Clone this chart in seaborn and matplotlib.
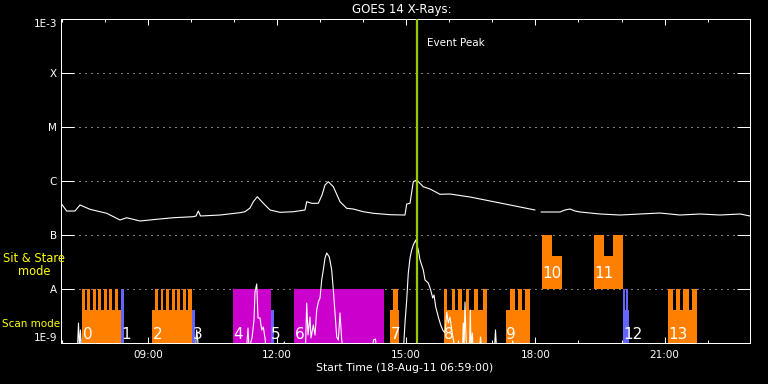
import matplotlib
matplotlib.use("Agg")
import numpy as np
import pandas as pd
import matplotlib.pyplot as plt
import seaborn as sns
from matplotlib.ticker import FixedLocator, NullLocator

# GOES 14 long channel (1-8 A), hours UT on 18-Aug-11, log10 flux
long_hour = [6.983, 7.115, 7.308, 7.424, 7.656, 8.044, 8.353, 8.509, 8.818, 9.205,
             9.591, 10.055, 10.118, 10.172, 10.223, 10.675, 11.140, 11.256, 11.372, 11.449,
             11.542, 11.681, 11.837, 12.069, 12.378, 12.649, 12.689, 12.805, 12.958, 13.044,
             13.114, 13.190, 13.307, 13.462, 13.618, 13.771, 14.003, 14.236, 14.623, 14.971,
             15.011, 15.088, 15.164, 15.243, 15.396, 15.552, 15.784, 16.016, 16.249, 16.481,
             16.713, 16.945, 17.178, 17.410, 17.642, 17.875, 17.991,
             18.130, 18.339, 18.571, 18.687, 18.804, 18.920, 19.036, 19.500, 19.965, 20.429,
             20.894, 21.358, 21.823, 22.287, 22.752, 22.983]
long_log = [-6.413, -6.556, -6.556, -6.444, -6.524, -6.598, -6.722, -6.680, -6.741, -6.709,
            -6.680, -6.661, -6.648, -6.556, -6.648, -6.630, -6.587, -6.569, -6.500, -6.383,
            -6.291, -6.413, -6.537, -6.580, -6.569, -6.537, -6.383, -6.413, -6.413, -6.259,
            -6.074, -6.013, -6.106, -6.383, -6.506, -6.519, -6.569, -6.598, -6.624, -6.630,
            -6.426, -6.413, -6.013, -5.981, -6.106, -6.148, -6.246, -6.241, -6.269, -6.296,
            -6.333, -6.370, -6.407, -6.444, -6.481, -6.519, -6.537,
            -6.574, -6.574, -6.574, -6.537, -6.519, -6.556, -6.574, -6.611, -6.630, -6.611,
            -6.593, -6.630, -6.611, -6.630, -6.611, -6.648]
long_seg = [0] * 57 + [1] * 16

# GOES 14 short channel (0.5-4 A); -9.1 is below the plot floor
short_hour = [6.983, 7.366, 7.389, 7.413, 7.436, 7.459, 10.106, 10.134, 10.153, 10.176,
              11.291, 11.326, 11.349, 11.419, 11.465, 11.488, 11.528, 11.558, 11.604, 11.644,
              11.681, 11.720, 11.744, 12.150, 12.169, 12.185,
              12.661, 12.689, 12.719, 12.765, 12.789, 12.842, 12.882, 12.921, 12.958, 12.998,
              13.037, 13.074, 13.114, 13.153, 13.214, 13.269, 13.307, 13.346, 13.386, 13.423,
              13.462, 13.502, 13.532, 14.217, 14.240, 14.286, 14.310,
              14.937, 14.971, 15.011, 15.048, 15.088, 15.127, 15.164, 15.220, 15.281, 15.320,
              15.396, 15.436, 15.513, 15.568, 15.615, 15.645, 15.685, 15.745, 15.801, 15.847,
              15.901, 15.940, 15.977, 16.016, 16.056, 16.086, 16.133,
              16.191, 16.214, 16.237, 16.307, 16.325, 16.342, 16.365, 16.388, 16.411, 16.469,
              16.488, 16.504, 16.534, 16.551, 16.702, 16.725, 16.748, 17.050, 17.073, 17.096,
              17.456, 17.472, 17.491, 22.983]
short_log = [-9.1, -9.1, -8.630, -9.1, -8.759, -9.1, -9.1, -8.759, -8.907, -9.1,
             -9.1, -8.722, -9.1, -8.907, -8.574, -8.056, -7.907, -8.537, -8.537, -8.759,
             -8.704, -8.907, -9.1, -9.1, -8.981, -9.1,
             -9.1, -8.259, -8.852, -8.519, -8.907, -8.667, -8.852, -8.389, -8.241, -8.167,
             -7.833, -7.648, -7.426, -7.333, -7.407, -7.648, -8.019, -8.444, -8.889, -8.944,
             -8.444, -8.944, -9.1, -9.1, -8.944, -8.926, -9.1,
             -9.1, -8.630, -8.204, -7.704, -7.426, -7.278, -7.185, -7.093, -7.278, -7.462,
             -7.648, -7.833, -7.889, -8.019, -8.167, -8.111, -8.333, -8.519, -8.667, -8.759,
             -8.815, -8.426, -8.630, -8.519, -8.759, -8.907, -9.1,
             -9.1, -8.963, -9.1, -9.1, -8.630, -9.1, -8.241, -8.907, -9.1, -9.1,
             -8.389, -9.1, -8.815, -9.1, -9.1, -8.889, -9.1, -9.1, -8.759, -9.1,
             -9.1, -8.963, -9.1, -9.1]

# observing sequences
seq_label = ["0", "1", "2", "3", "4", "5", "6", "7", "8", "9", "10", "11", "12", "13"]
seq_kind = ["raster", "fixed", "raster", "fixed", "context", "fixed", "context",
            "raster", "raster", "raster", "raster", "raster", "fixed", "raster"]
seq_band = ["scan"] * 10 + ["stare", "stare", "scan", "scan"]
seq_start = [7.478, 8.376, 9.096, 10.032, 10.977, 11.853, 12.394, 14.623, 15.877, 17.317,
             18.153, 19.361, 20.030, 21.079]
seq_end = [8.376, 8.446, 10.032, 10.095, 11.853, 11.930, 14.484, 14.832, 16.869, 17.875,
           18.618, 20.027, 20.174, 21.753]
seq_level = [4e-9, 1e-8, 4e-9, 4e-9, 1e-8, 4e-9, 1e-8, 4e-9, 4e-9, 4e-9,
             4e-8, 4e-8, 4e-9, 4e-9]

# individual exposures reaching the top of the band
spike_seq = [0] * 7 + [2] * 7 + [7] + [8] * 6 + [9] * 3 + [10] + [11] * 2 + [12] * 2 + [13] * 4
spike_start = [7.478, 7.594, 7.719, 7.849, 7.975, 8.105, 8.237,
               9.166, 9.298, 9.421, 9.554, 9.684, 9.809, 9.939,
               14.693,
               15.877, 16.056, 16.209, 16.388, 16.574, 16.776,
               17.410, 17.589, 17.758,
               18.153,
               19.361, 19.802,
               20.040, 20.110,
               21.079, 21.258, 21.435, 21.630]
spike_end = [7.540, 7.663, 7.789, 7.912, 8.044, 8.174, 8.314,
             9.243, 9.359, 9.491, 9.630, 9.753, 9.886, 10.032,
             14.809,
             15.954, 16.133, 16.288, 16.465, 16.674, 16.869,
             17.526, 17.689, 17.875,
             18.386,
             19.593, 20.027,
             20.090, 20.160,
             21.195, 21.365, 21.560, 21.753]

event_peak = 15.24
class_ticks = [1e-9, 1e-8, 1e-7, 1e-6, 1e-5, 1e-4, 1e-3]
class_labels = ["1E-9", "A", "B", "C", "M", "X", "1E-3"]
hour_ticks = [9, 12, 15, 18, 21]
hour_labels = ["09:00", "12:00", "15:00", "18:00", "21:00"]
hour_minor = [7, 8, 10, 11, 13, 14, 16, 17, 19, 20, 22]

band_limits = {"scan": (1e-9, 1e-8), "stare": (1e-8, 1e-7)}
kind_colors = {"raster": "#FF8000", "fixed": "#6464FF", "context": "#CC00CC"}

sns.set_theme(style="dark", rc={
    "axes.facecolor": "black", "figure.facecolor": "black",
    "savefig.facecolor": "black", "axes.edgecolor": "white",
    "text.color": "white", "xtick.color": "white", "ytick.color": "white",
})
plt.rcParams["font.family"] = ["DejaVu Sans"]

fig = plt.figure(figsize=(7.68, 3.84), dpi=100)
ax = fig.add_axes([61 / 768, 41 / 384, 689 / 768, 324 / 384])
ax.set_yscale("log")

# sequence blocks
for i in range(len(seq_label)):
    lo, hi = band_limits[seq_band[i]]
    ax.bar(seq_start[i], seq_level[i] - lo, width=seq_end[i] - seq_start[i], bottom=lo,
           align="edge", color=kind_colors[seq_kind[i]], linewidth=0, zorder=1)
for s, x0, x1 in zip(spike_seq, spike_start, spike_end):
    lo, hi = band_limits[seq_band[s]]
    ax.bar(x0, hi - lo, width=x1 - x0, bottom=lo, align="edge",
           color=kind_colors[seq_kind[s]], linewidth=0, zorder=1)

long_df = pd.DataFrame({"hour": long_hour, "flux": np.power(10.0, long_log), "seg": long_seg})
short_df = pd.DataFrame({"hour": short_hour, "flux": np.power(10.0, short_log)})
sns.lineplot(data=long_df, x="hour", y="flux", units="seg", estimator=None,
             color="white", linewidth=0.8, ax=ax, zorder=3)
sns.lineplot(data=short_df, x="hour", y="flux", estimator=None, sort=False,
             color="white", linewidth=0.8, ax=ax, zorder=3)

ax.axvline(event_peak, color="#99CC00", linewidth=1.6, zorder=4)
ax.text(event_peak + 0.25, 10 ** (-3 - 24 / 54), "Event Peak", fontsize=7.5,
        color="white", va="center", ha="left")

for i, lab in enumerate(seq_label):
    base = 1.19e-9 if seq_band[i] == "scan" else 1.6e-8
    ax.text(seq_start[i] + 0.01, base, lab, fontsize=11, color="white",
            ha="left", va="baseline", zorder=5)

ax.set_xlim(6.983, 22.983)
ax.set_ylim(1e-9, 1e-3)
ax.yaxis.set_major_locator(FixedLocator(class_ticks))
ax.yaxis.set_minor_locator(NullLocator())
ax.set_yticklabels(class_labels)
ax.xaxis.set_major_locator(FixedLocator(hour_ticks))
ax.xaxis.set_minor_locator(FixedLocator(hour_minor))
ax.set_xticklabels(hour_labels)
ax.set_xlabel("")
ax.set_ylabel("")
ax.grid(False)
ax.grid(axis="y", which="major", color="white", linestyle=(0, (1, 5)), linewidth=0.72)
ax.set_axisbelow(True)
ax.tick_params(axis="y", which="major", direction="in", length=9.5, width=0.72,
               left=True, right=True, pad=3, labelsize=7.5, labelcolor="white")
ax.tick_params(axis="x", which="major", direction="in", length=4.3, width=0.72,
               bottom=True, top=True, pad=5, labelsize=7.5, labelcolor="white")
ax.tick_params(axis="x", which="minor", direction="in", length=2.2, width=0.72,
               bottom=True, top=True)
ylabs = ax.get_yticklabels()
ylabs[0].set_va("bottom")
ylabs[-1].set_va("top")
for sp in ax.spines.values():
    sp.set_visible(True)
    sp.set_color("white")
    sp.set_linewidth(0.72)

fig.text(402 / 768, 1 - 9.5 / 384, "GOES 14 X-Rays:", ha="center", va="center",
         fontsize=8.5, color="white")
fig.text(405 / 768, 1 - 368 / 384, "Start Time (18-Aug-11 06:59:00)", ha="center",
         va="center", fontsize=7.8, color="white")
fig.text(34 / 768, 1 - 265 / 384, "Sit & Stare\nmode", ha="center", va="center",
         fontsize=8.3, color="yellow", linespacing=1.0)
fig.text(2 / 768, 1 - 324 / 384, "Scan mode", ha="left", va="center",
         fontsize=7.5, color="yellow")

fig.savefig("out.png", dpi=100, facecolor="black")
